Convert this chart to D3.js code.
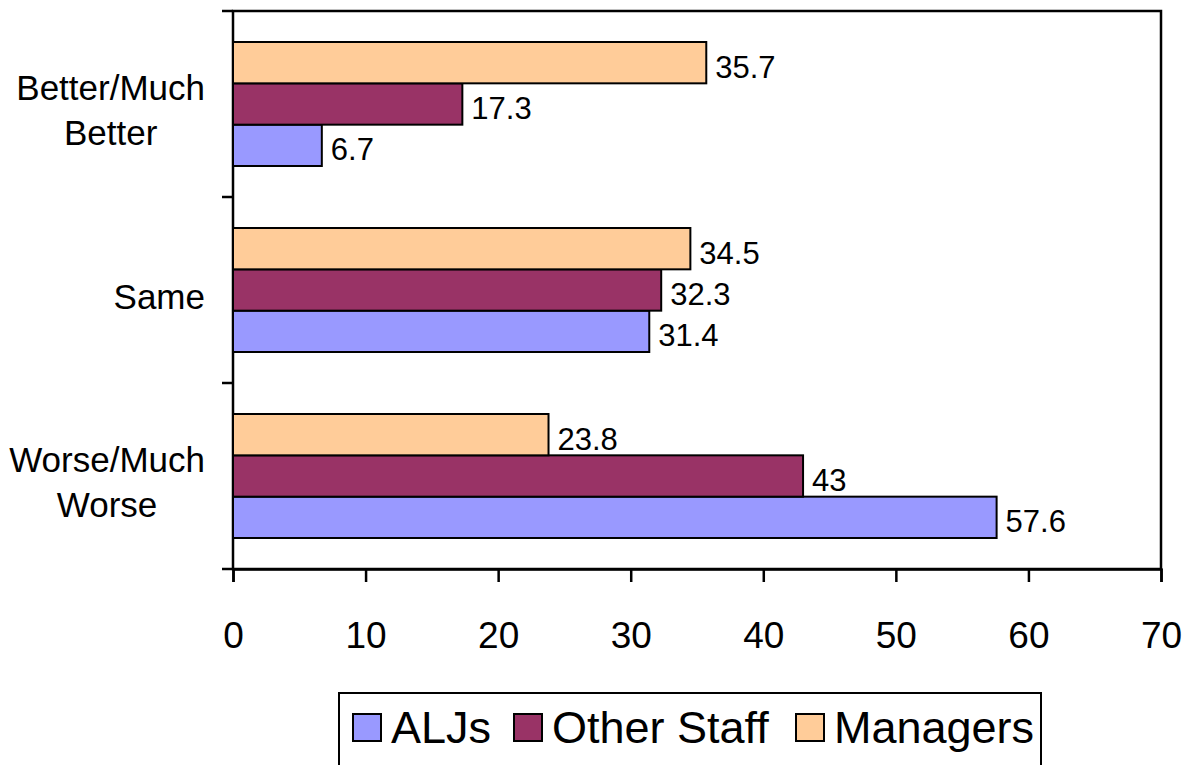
<!DOCTYPE html>
<html>
<head>
<meta charset="utf-8">
<script src="https://cdn.jsdelivr.net/npm/d3@7"></script>
<style>
  html, body { margin: 0; padding: 0; background: #fff; }
  svg { display: block; font-family: "Liberation Sans", Arial, sans-serif; }
</style>
</head>
<body>
<svg id="chart" width="1190" height="765"></svg>
<script>
const categories = ["Better/Much Better", "Same", "Worse/Much Worse"];
const categoryLines = [["Better/Much", "Better"], ["Same"], ["Worse/Much", "Worse"]];
const seriesNames = ["ALJs", "Other Staff", "Managers"];
const aljs = [6.7, 31.4, 57.6];
const otherStaff = [17.3, 32.3, 43];
const managers = [35.7, 34.5, 23.8];
const xTicks = [0, 10, 20, 30, 40, 50, 60, 70];
const colors = { "ALJs": "#9999FF", "Other Staff": "#993366", "Managers": "#FFCC99" };

const seriesValues = { "ALJs": aljs, "Other Staff": otherStaff, "Managers": managers };

(function () {
const svg = d3.select("#chart");
const pLeft = 233, pRight = 1161, pTop = 11, pBottom = 569;

const x = d3.scaleLinear().domain([0, 70]).range([pLeft, pRight]);
const y = d3.scaleBand().domain(categories).range([pTop, pBottom]).paddingInner(1/3).paddingOuter(1/6);
const inner = d3.scaleBand().domain(["Managers", "Other Staff", "ALJs"]).range([0, y.bandwidth()]);

// plot frame
svg.append("rect").attr("x", pLeft).attr("y", pTop).attr("width", pRight - pLeft).attr("height", pBottom - pTop)
  .attr("fill", "none").attr("stroke", "#000").attr("stroke-width", 2.5);

// bars
const rows = [];
categories.forEach((c, i) => {
  seriesNames.forEach(s => rows.push({ cat: c, series: s, value: seriesValues[s][i] }));
});

svg.append("g").selectAll("rect").data(rows).join("rect")
  .attr("x", x(0))
  .attr("y", d => y(d.cat) + inner(d.series))
  .attr("width", d => x(d.value) - x(0))
  .attr("height", inner.bandwidth())
  .attr("fill", d => colors[d.series])
  .attr("stroke", "#000").attr("stroke-width", 2);

svg.append("g").selectAll("text").data(rows).join("text")
  .attr("x", d => x(d.value) + 9)
  .attr("y", d => y(d.cat) + inner(d.series) + inner.bandwidth() / 2 + 15)
  .attr("font-size", 31)
  .attr("fill", "#000")
  .text(d => d.value);

// x axis
const xAxis = svg.append("g").attr("transform", `translate(0,${pBottom})`)
  .call(d3.axisBottom(x).tickValues(xTicks).tickSize(13).tickPadding(40).tickFormat(d3.format("d")));
xAxis.select(".domain").attr("stroke", "#000").attr("stroke-width", 2.5);
xAxis.selectAll(".tick line").attr("stroke", "#000").attr("stroke-width", 2.5);
xAxis.selectAll(".tick text").attr("font-size", 37).attr("fill", "#000")
  .attr("font-family", "'Liberation Sans', Arial, sans-serif");

// y axis ticks at band boundaries
const yBounds = [pTop, ...categories.map(c => y(c) - y.step() / 6 + y.step())];
svg.append("g").selectAll("line").data(yBounds).join("line")
  .attr("x1", pLeft - 11).attr("x2", pLeft).attr("y1", d => d).attr("y2", d => d)
  .attr("stroke", "#000").attr("stroke-width", 2.5);

// category labels (block right-aligned, lines centred)
const catG = svg.append("g");
categories.forEach((c, i) => {
  const lines = categoryLines[i];
  const fs = 35, lh = 45, cap = 0.716 * fs;
  const cy = y(c) + y.bandwidth() / 2;
  const t = catG.append("text").attr("font-size", fs).attr("fill", "#000").attr("text-anchor", "middle");
  const spans = lines.map(l => t.append("tspan").text(l));
  const widths = spans.map(s => s.node().getComputedTextLength());
  const blockW = d3.max(widths);
  const cx = 205 - blockW / 2;
  spans.forEach((s, j) => s.attr("x", cx)
    .attr("y", cy + 6 + cap / 2 + (j - (lines.length - 1) / 2) * lh));
});

// legend
const lg = svg.append("g");
lg.append("rect").attr("x", 339).attr("y", 693).attr("width", 702).attr("height", 110)
  .attr("fill", "#fff").attr("stroke", "#000").attr("stroke-width", 2);
const legendX = [353, 514, 796];
seriesNames.forEach((s, i) => {
  lg.append("rect").attr("x", legendX[i]).attr("y", 714).attr("width", 28).attr("height", 27)
    .attr("fill", colors[s]).attr("stroke", "#000").attr("stroke-width", 2);
  lg.append("text").attr("x", legendX[i] + 38).attr("y", 743).attr("font-size", 45).attr("fill", "#000").text(s);
});
})();
</script>
</body>
</html>
